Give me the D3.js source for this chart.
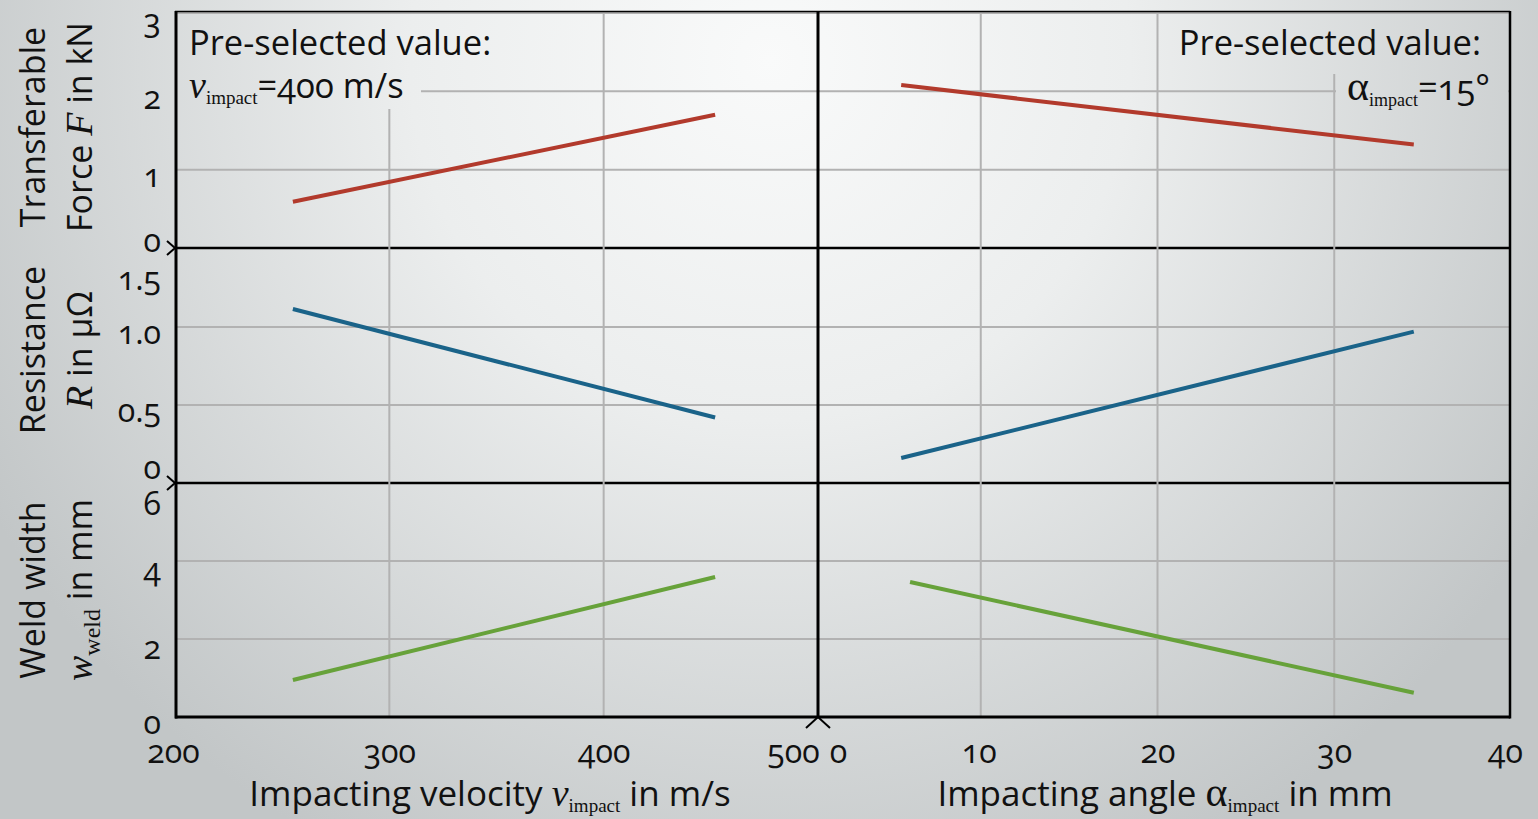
<!DOCTYPE html>
<html>
<head>
<meta charset="utf-8">
<script src="https://cdn.jsdelivr.net/npm/d3@7"></script>
<style>
  body { margin: 0; overflow: hidden; }
  svg text { font-family: "Open Sans", "Noto Sans", sans-serif; fill: #111; font-variant-numeric: oldstyle-nums; }
</style>
</head>
<body>
<script>
// values
var velocity = [255, 452];          // m/s, left panel
var angle = [5.5, 34.5];            // right panel, force + resistance
var angleWeld = [6.0, 34.5];        // right panel, weld width
var forceByVelocity = [0.59, 1.70];
var forceByAngle = [2.08, 1.32];
var resistanceByVelocity = [1.115, 0.42];
var resistanceByAngle = [0.16, 0.97];
var weldByVelocity = [0.95, 3.59];
var weldByAngle = [3.46, 0.62];

var velocityTicks = [200, 300, 400, 500];
var angleTicks = [0, 10, 20, 30, 40];
var forceTicks = [0, 1, 2, 3];
var resistanceTicks = [0, 0.5, 1.0, 1.5];
var weldTicks = [0, 2, 4, 6];

var W = 1538, H = 819;
var pLeft = 175, pMid = 818, pRight = 1510, pTop = 13, pBottom = 717;
var SERIF = "'Liberation Serif', 'DejaVu Serif', serif";

var svg = d3.select("body").append("svg")
    .attr("width", W).attr("height", H);

// background gradient, in page pixels so the note boxes blend in
var defs = svg.append("defs");
var grad = defs.append("radialGradient").attr("id", "bg")
    .attr("gradientUnits", "userSpaceOnUse")
    .attr("cx", 770).attr("cy", 60).attr("r", 900)
    .attr("fx", 770).attr("fy", 60);
grad.append("stop").attr("offset", "0%").attr("stop-color", "#f9fafa");
grad.append("stop").attr("offset", "40%").attr("stop-color", "#eceeee");
grad.append("stop").attr("offset", "100%").attr("stop-color", "#c2c6c7");
svg.append("rect").attr("width", W).attr("height", H).attr("fill", "url(#bg)");

var xL = d3.scaleLinear().domain([200, 500]).range([pLeft, pMid]);
var xR = d3.scaleLinear().domain([0, 40]).range([804, 1511]);

var rows = [
  { ticks: forceTicks, range: [248, pTop], fmt: function (d) { return d; },
    left: forceByVelocity, right: forceByAngle, rightX: angle, color: "#b23a2c" },
  { ticks: resistanceTicks, range: [483, 249], fmt: function (d) { return d === 0 ? "0" : d.toFixed(1); },
    left: resistanceByVelocity, right: resistanceByAngle, rightX: angle, color: "#1a6389" },
  { ticks: weldTicks, range: [pBottom, 483], fmt: function (d) { return d; },
    left: weldByVelocity, right: weldByAngle, rightX: angleWeld, color: "#67a23a" }
];
rows.forEach(function (r) {
  r.y = d3.scaleLinear().domain([r.ticks[0], r.ticks[r.ticks.length - 1]]).range(r.range);
});

// horizontal grid lines
var grid = svg.append("g").attr("stroke", "#b2b2b2").attr("stroke-width", 2);
rows.forEach(function (r, i) {
  r.ticks.slice(1).forEach(function (t) {
    if (i > 0 && t === r.ticks[r.ticks.length - 1]) return;
    grid.append("line")
      .attr("x1", pLeft).attr("x2", pRight)
      .attr("y1", r.y(t)).attr("y2", r.y(t));
  });
});

// row separators
var seps = svg.append("g").attr("stroke", "#000");
[rows[0].y(0), rows[1].y(0)].forEach(function (y) {
  seps.append("line").attr("x1", pLeft).attr("x2", pRight)
    .attr("y1", y).attr("y2", y).attr("stroke-width", 2.5);
});
seps.append("line").attr("x1", pLeft).attr("x2", pRight)
  .attr("y1", pTop - 1.5).attr("y2", pTop - 1.5).attr("stroke-width", 1.5);

// vertical grid lines (drawn over the separators)
var vgrid = svg.append("g").attr("stroke", "#b2b2b2").attr("stroke-width", 2);
velocityTicks.slice(1, -1).forEach(function (t) {
  vgrid.append("line").attr("x1", xL(t)).attr("x2", xL(t)).attr("y1", pTop).attr("y2", pBottom);
});
angleTicks.slice(1, -1).forEach(function (t) {
  vgrid.append("line").attr("x1", xR(t)).attr("x2", xR(t)).attr("y1", pTop).attr("y2", pBottom);
});

// pre-selected value boxes hide the grid behind them
var mask = svg.append("g").attr("fill", "url(#bg)");
mask.append("rect").attr("x", pLeft + 2).attr("y", pTop + 1).attr("width", 330).attr("height", 56);
mask.append("rect").attr("x", pLeft + 2).attr("y", pTop + 1).attr("width", 244).attr("height", 95);
mask.append("rect").attr("x", 1162).attr("y", pTop + 1).attr("width", 346).attr("height", 60);
mask.append("rect").attr("x", 1336).attr("y", pTop + 1).attr("width", 172).attr("height", 79);

// data lines
var lines = svg.append("g").attr("fill", "none").attr("stroke-width", 4);
rows.forEach(function (r) {
  var lineL = d3.line().x(function (d) { return xL(d[0]); }).y(function (d) { return r.y(d[1]); });
  var lineR = d3.line().x(function (d) { return xR(d[0]); }).y(function (d) { return r.y(d[1]); });
  lines.append("path").attr("stroke", r.color)
    .attr("d", lineL(d3.zip(velocity, r.left)));
  lines.append("path").attr("stroke", r.color)
    .attr("d", lineR(d3.zip(r.rightX, r.right)));
});

// main axis lines
var axes = svg.append("g").attr("stroke", "#000");
axes.append("line").attr("x1", pLeft + 1).attr("x2", pLeft + 1).attr("y1", pTop - 2).attr("y2", pBottom + 1.5).attr("stroke-width", 3);
axes.append("line").attr("x1", pRight).attr("x2", pRight).attr("y1", pTop - 2).attr("y2", pBottom + 1.5).attr("stroke-width", 2.5);
axes.append("line").attr("x1", pMid).attr("x2", pMid).attr("y1", pTop - 2).attr("y2", pBottom).attr("stroke-width", 3);
axes.append("line").attr("x1", pLeft).attr("x2", pRight).attr("y1", pBottom).attr("y2", pBottom).attr("stroke-width", 3);

// axis break marks
var brk = svg.append("g").attr("fill", "none").attr("stroke", "#000").attr("stroke-width", 2);
[rows[0].y(0), rows[1].y(0)].forEach(function (y) {
  brk.append("path").attr("d", "M" + (pLeft - 8) + "," + (y - 7) + "L" + pLeft + "," + y + "L" + (pLeft - 8) + "," + (y + 7));
});
brk.append("path").attr("d", "M" + (pMid - 12) + "," + (pBottom + 11) + "L" + pMid + "," + pBottom + "L" + (pMid + 12) + "," + (pBottom + 11));

// y tick labels via d3 axes, nudged like the original
var yShift = [
  { first: -8, mid: 6, last: 7 },
  { first: -16, mid: 5, last: 29 },
  { first: 5, mid: 8, last: 20 }
];
rows.forEach(function (r, i) {
  var g = svg.append("g").attr("transform", "translate(161,0)")
    .call(d3.axisLeft(r.y).tickValues(r.ticks).tickSize(0).tickPadding(0).tickFormat(r.fmt));
  g.select(".domain").remove();
  g.selectAll("text").attr("font-size", 32).attr("fill", "#111")
    .style("font-family", "'Open Sans', sans-serif")
    .attr("dy", function (d, j) {
      var s = j === 0 ? yShift[i].first : (j === r.ticks.length - 1 ? yShift[i].last : yShift[i].mid);
      return (s + 11) + "px";
    });
});

// x tick labels
function xAxis(scale, ticks, shift) {
  var g = svg.append("g").attr("transform", "translate(0,740)")
    .call(d3.axisBottom(scale).tickValues(ticks).tickSize(0).tickPadding(0));
  g.select(".domain").remove();
  g.selectAll("text").attr("font-size", 32).attr("fill", "#111")
    .style("font-family", "'Open Sans', sans-serif")
    .attr("dx", function (d) { return (shift[d] || 0) + "px"; });
}
xAxis(xL, velocityTicks, { 200: -2, 500: -25 });
xAxis(xR, angleTicks, { 0: 34, 10: -2, 40: -6 });

// axis titles
var tL = svg.append("text").attr("x", 490).attr("y", 806).attr("text-anchor", "middle").attr("font-size", 35);
tL.append("tspan").text("Impacting velocity  ");
tL.append("tspan").style("font-family", SERIF).style("font-style", "italic").attr("font-size", 38).text("v");
tL.append("tspan").style("font-family", SERIF).attr("font-size", 19).attr("dy", "6px").text("impact");
tL.append("tspan").attr("dy", "-6px").text(" in m/s");

var tR = svg.append("text").attr("x", 1165).attr("y", 806).attr("text-anchor", "middle").attr("font-size", 35);
tR.append("tspan").text("Impacting angle  ");
tR.append("tspan").style("font-family", SERIF).attr("font-size", 42).text("α");
tR.append("tspan").style("font-family", SERIF).attr("font-size", 19).attr("dy", "6px").text("impact");
tR.append("tspan").attr("dy", "-6px").text("  in mm");

// y axis titles, two lines each
var yTitles = [
  { c: 127, a: "Transferable", b: [["Force ", ""], ["F", "i"], [" in kN", ""]] },
  { c: 350, a: "Resistance", b: [["R", "i"], [" in μΩ", ""]] },
  { c: 590, a: "Weld width", b: [["w", "i"], ["weld", "s"], [" in mm", "u"]] }
];
yTitles.forEach(function (d) {
  svg.append("text").attr("transform", "translate(45," + d.c + ") rotate(-90)")
    .attr("text-anchor", "middle").attr("font-size", 34).text(d.a);
  var t = svg.append("text").attr("transform", "translate(92," + d.c + ") rotate(-90)")
    .attr("text-anchor", "middle").attr("font-size", 34);
  d.b.forEach(function (p) {
    var s = t.append("tspan").text(p[0]);
    if (p[1] === "i") s.style("font-family", SERIF).style("font-style", "italic").attr("font-size", 38);
    if (p[1] === "s") s.style("font-family", SERIF).attr("font-size", 24).attr("dy", "8px");
    if (p[1] === "u") s.attr("dy", "-8px");
  });
});

// pre-selected value notes
svg.append("text").attr("x", 189).attr("y", 55).attr("font-size", 34.5).text("Pre-selected value:");
var n1 = svg.append("text").attr("x", 189).attr("y", 98).attr("font-size", 34.5);
n1.append("tspan").style("font-family", SERIF).style("font-style", "italic").attr("font-size", 38).text("v");
n1.append("tspan").style("font-family", SERIF).attr("font-size", 19).attr("dy", "6px").text("impact");
n1.append("tspan").attr("dy", "-6px").text("=400 m/s");

svg.append("text").attr("x", 1481).attr("y", 55).attr("text-anchor", "end").attr("font-size", 34.5).text("Pre-selected value:");
var n2 = svg.append("text").attr("x", 1490).attr("y", 100).attr("text-anchor", "end").attr("font-size", 34.5);
n2.append("tspan").style("font-family", SERIF).attr("font-size", 42).text("α");
n2.append("tspan").style("font-family", SERIF).attr("font-size", 18).attr("dy", "6px").text("impact");
n2.append("tspan").attr("dy", "-6px").text("=15°");
</script>
</body>
</html>
